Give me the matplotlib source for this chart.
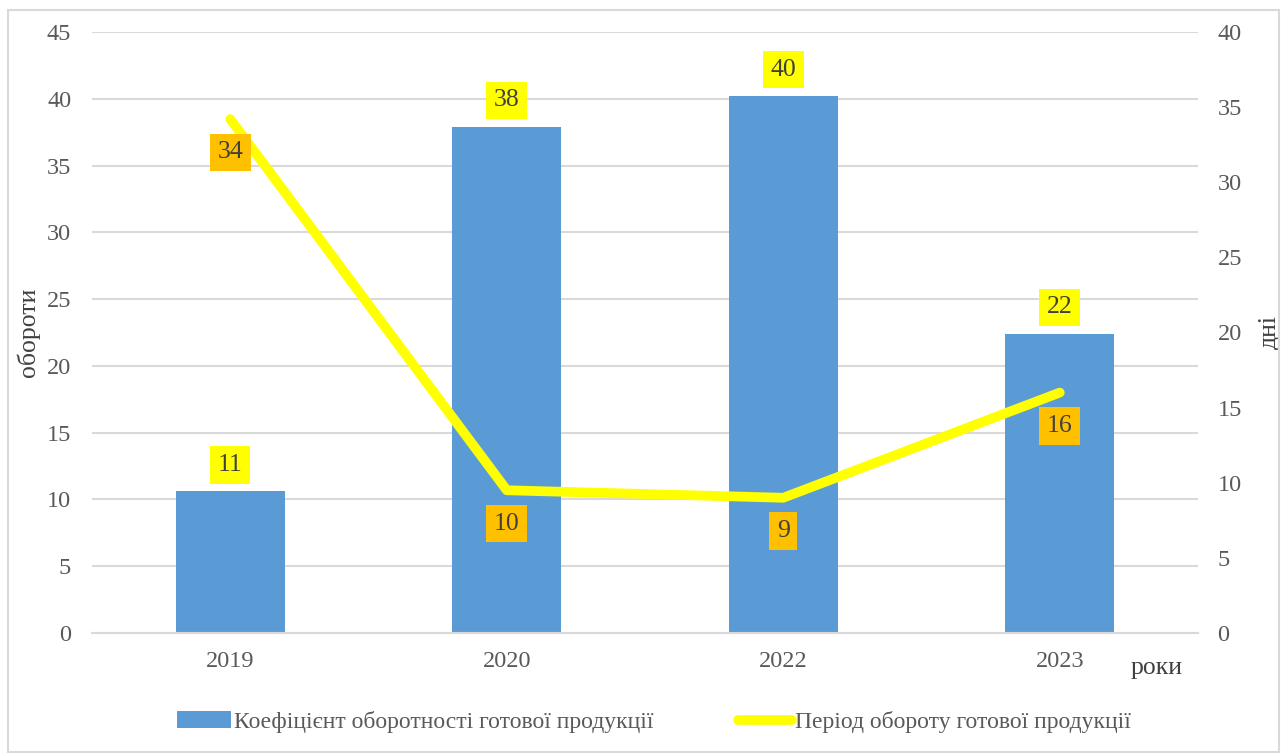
import matplotlib.pyplot as plt
from matplotlib.patches import Rectangle
import numpy as np

plt.rcParams['font.family'] = ['Liberation Serif', 'DejaVu Serif']

# Дані
years = ['2019', '2020', '2022', '2023']
turnover_ratio = [10.6, 37.9, 40.2, 22.4]   # обороти
turnover_days = [34.2, 9.5, 9.0, 16.0]      # дні

bar_color = '#5B9BD5'
line_color = '#FFFF00'
txt_color = '#595959'
fs = 18.5
tick_fs = 17.5

fig = plt.figure(figsize=(12.82, 7.56), dpi=100)
ax = fig.add_axes([0.0718, 0.1627, 0.8627, 0.795])
ax2 = ax.twinx()

x = np.arange(len(years))
bars = ax.bar(x, turnover_ratio, width=0.395, color=bar_color, zorder=2,
              label='Коефіцієнт оборотності готової продукції')
line, = ax2.plot(x, turnover_days, color=line_color, lw=7, solid_capstyle='round',
                 zorder=3, label='Період обороту готової продукції')

ax.set_xlim(-0.5, 3.5)
ax.set_ylim(0, 45)
ax.set_yticks(np.arange(0, 46, 5))
ax2.set_ylim(0, 40)
ax2.set_yticks(np.arange(0, 41, 5))
ax.set_xticks(x)
ax.set_xticklabels(years)

ax.grid(axis='y', color='#D9D9D9', lw=1.5, zorder=0)
ax.set_axisbelow(True)
for a in (ax, ax2):
    for s in a.spines.values():
        s.set_visible(False)
    a.tick_params(length=0, labelsize=tick_fs, labelcolor=txt_color)
ax.spines['bottom'].set_visible(True)
ax.spines['bottom'].set_color('#D9D9D9')
ax.spines['bottom'].set_linewidth(1.5)
ax.tick_params(axis='y', pad=15)
ax2.tick_params(axis='y', pad=14)
ax.tick_params(axis='x', pad=13)

ax.set_ylabel('обороти', fontsize=fs, color='#404040', labelpad=5)
ax2.set_ylabel('дні', fontsize=fs, color='#404040', rotation=90, labelpad=12)
fig.text(0.882, 0.116, 'роки', fontsize=fs, color='#404040', ha='left', va='center')

# підписи значень
for xi, v in zip(x, turnover_ratio):
    ax.annotate(f'{v:.0f}', (xi, v), xytext=(0, 19), textcoords='offset points',
                ha='center', va='center', fontsize=fs, color='#404040', zorder=5,
                bbox=dict(boxstyle='square,pad=0.3', fc='#FFFF00', ec='none'))
for xi, v in zip(x, turnover_days):
    ax2.annotate(f'{v:.0f}', (xi, v), xytext=(0, -24), textcoords='offset points',
                 ha='center', va='center', fontsize=fs, color='#404040', zorder=5,
                 bbox=dict(boxstyle='square,pad=0.3', fc='#FFC000', ec='none'))

fig.legend(handles=[bars, line], loc='center', bbox_to_anchor=(0.51, 0.045), ncol=2,
           frameon=False, fontsize=17, labelcolor=txt_color, handlelength=2.3,
           handletextpad=0.1, columnspacing=3.6)

fig.patches.append(Rectangle((0.006, 0.005), 0.992, 0.982, transform=fig.transFigure,
                             fill=False, ec='#D9D9D9', lw=1.5))

plt.savefig('out.png', dpi=100)
